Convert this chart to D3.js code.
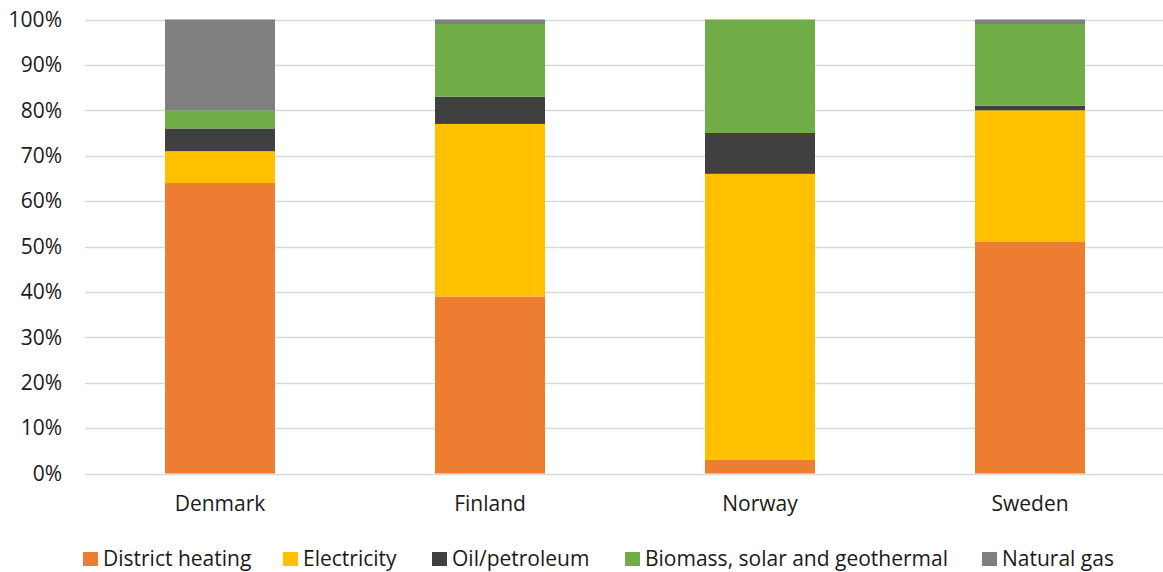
<!DOCTYPE html>
<html>
<head>
<meta charset="utf-8">
<script src="https://cdn.jsdelivr.net/npm/d3@7"></script>
<style>
  html, body { margin: 0; padding: 0; background: #fff; }
  svg { display: block; font-family: "Open Sans", sans-serif; }
</style>
</head>
<body>
<svg id="chart" width="1163" height="572"></svg>
<script>
// Heating energy mix by country (share of total, %)
const countries = ["Denmark", "Finland", "Norway", "Sweden"];
const seriesNames = ["District heating", "Electricity", "Oil/petroleum", "Biomass, solar and geothermal", "Natural gas"];
const districtHeating = [64, 39, 3, 51];
const electricity     = [7, 38, 63, 29];
const oilPetroleum    = [5, 6, 9, 1];
const biomass         = [4, 16, 25, 18];
const naturalGas      = [20, 1, 0, 1];
const yTicks = [0, 10, 20, 30, 40, 50, 60, 70, 80, 90, 100];
const colors = ["#ed7d31", "#ffc000", "#404040", "#70ad47", "#7f7f7f"];

const seriesValues = [districtHeating, electricity, oilPetroleum, biomass, naturalGas];
const rows = countries.map((c, i) => {
  const r = { country: c };
  seriesNames.forEach((s, j) => { r[s] = seriesValues[j][i]; });
  return r;
});

const svg = d3.select("#chart");
const plotLeft = 85, plotRight = 1165, plotTop = 19.5, plotBottom = 473.5;
const fontSize = 21;
const textColor = "#1a1a1a";

const x = d3.scaleBand().domain(countries).range([plotLeft, plotRight]).paddingInner(0.5926).paddingOuter(0.2963);
const y = d3.scaleLinear().domain([0, 100]).range([plotBottom, plotTop]);

// Gridlines
svg.append("g").selectAll("line").data(yTicks).join("line")
  .attr("x1", plotLeft).attr("x2", 1163)
  .attr("y1", d => Math.round(y(d)) + 0.5).attr("y2", d => Math.round(y(d)) + 0.5)
  .attr("stroke", "#d9d9d9").attr("stroke-width", 1.3);

// Y axis labels
const yAxis = d3.axisLeft(y).tickValues(yTicks).tickFormat(d => d + "%").tickSize(0).tickPadding(0);
const ya = svg.append("g").attr("transform", `translate(${62},0)`).call(yAxis);
ya.select(".domain").remove();
ya.selectAll("text").attr("font-size", fontSize).attr("fill", textColor).attr("font-family", "Open Sans, sans-serif");

// Stacked bars
const stack = d3.stack().keys(seriesNames)(rows);
svg.append("g").selectAll("g").data(stack).join("g")
  .attr("fill", (d, i) => colors[i])
  .selectAll("rect").data(d => d).join("rect")
  .attr("x", d => x(d.data.country))
  .attr("width", x.bandwidth())
  .attr("y", d => y(d[1]))
  .attr("height", d => y(d[0]) - y(d[1]));

// Category labels
const xAxis = d3.axisBottom(x).tickSize(0).tickPadding(0);
const xa = svg.append("g").attr("transform", `translate(0,${511})`).call(xAxis);
xa.select(".domain").remove();
xa.selectAll("text").attr("font-size", fontSize).attr("fill", textColor)
  .attr("font-family", "Open Sans, sans-serif").attr("y", 0).attr("dy", 0);

// Legend
const legendX = [83, 283, 432, 625, 982];
const lg = svg.append("g").selectAll("g").data(seriesNames).join("g")
  .attr("transform", (d, i) => `translate(${legendX[i]},${566})`);
lg.append("rect").attr("x", 0).attr("y", -14).attr("width", 15).attr("height", 14)
  .attr("fill", (d, i) => colors[i]);
lg.append("text").attr("x", 20).attr("y", 0)
  .attr("font-size", fontSize).attr("fill", textColor).text(d => d);
</script>
</body>
</html>
